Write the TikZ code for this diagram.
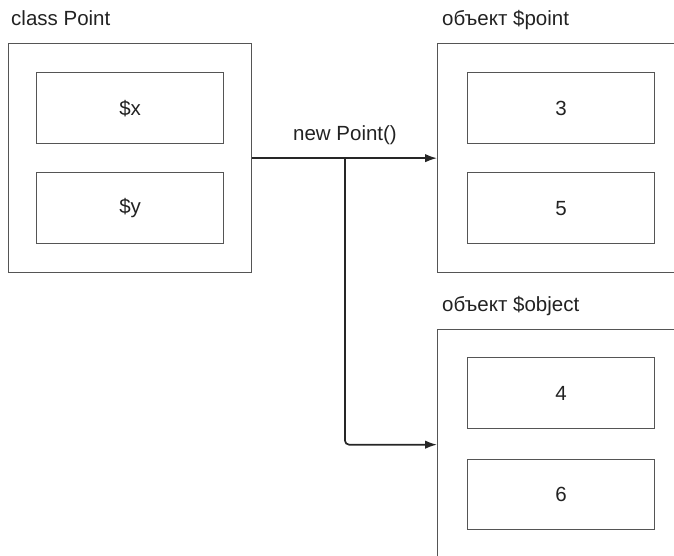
\documentclass[tikz,border=0pt]{standalone}
\usepackage{fontspec}
\setmainfont{Liberation Sans}
\usetikzlibrary{arrows.meta}
\definecolor{linegray}{HTML}{555555}
\definecolor{txt}{HTML}{222222}
\begin{document}
\begin{tikzpicture}[x=1pt,y=-1pt,
  outerbox/.style={draw=linegray, line width=1.3pt, inner sep=0pt, anchor=north west, minimum height=229pt},
  cell/.style={draw=linegray, line width=1.3pt, inner sep=0pt, anchor=north west, minimum width=187pt, minimum height=71pt, font=\fontsize{20.5}{24}\selectfont, text=txt},
  lbl/.style={anchor=base west, inner sep=0pt, font=\fontsize{20.5}{24}\selectfont, text=txt},
  conn/.style={draw=black!85, line width=1.7pt, -{Latex[length=12pt,width=8.5pt]}}
]
\useasboundingbox (0,0) rectangle (674,555);
\clip (0,0) rectangle (674,555);
% left class box
\node[outerbox, minimum width=243pt] (cls) at (8,43) {};
\node[cell] (cx) at (36,72) {\$x};
\node[cell] (cy) at (36,172) {\$y};
\node[lbl] (clsl) at (11,25) {class Point};
% object $point
\node[outerbox, minimum width=262pt] (pt) at (437,43) {};
\node[cell] (p3) at (467,72) {3};
\node[cell] (p5) at (467,172) {5};
\node[lbl] (ptl) at (442,25) {объект \$point};
% object $object
\node[outerbox, minimum width=262pt, minimum height=230pt] (obj) at (437,329) {};
\node[cell] (o4) at (467,357) {4};
\node[cell, minimum height=70pt] (o6) at (467,459) {6};
\node[lbl] (objl) at (442,311) {объект \$object};
% connectors
\draw[conn] (cls.east) -- (pt.west);
\coordinate (br) at (345,157.5);
\draw[conn, rounded corners=4pt] (br) -- (br |- obj.west) -- (obj.west);
\node[anchor=base, inner sep=0pt, font=\fontsize{20.5}{24}\selectfont, text=txt] (newl) at (345,140) {new Point()};
\end{tikzpicture}
\end{document}
